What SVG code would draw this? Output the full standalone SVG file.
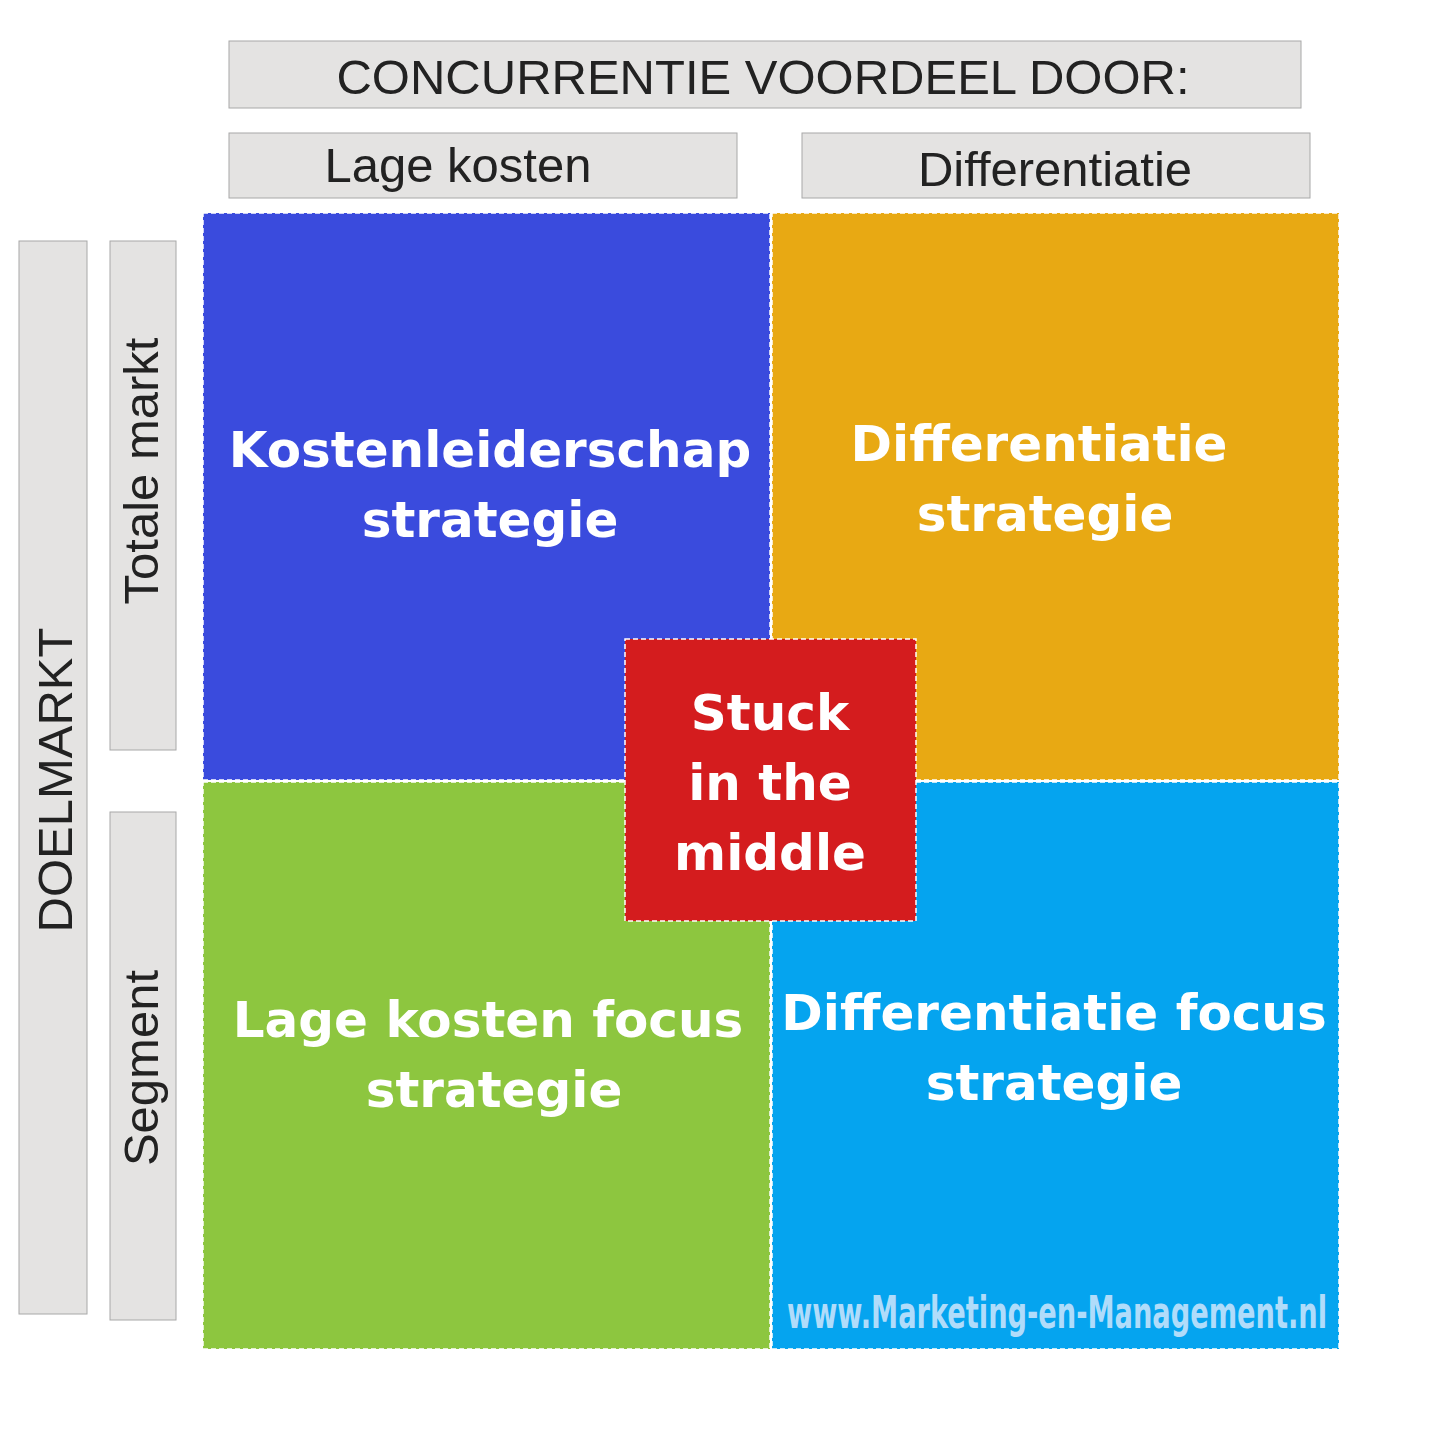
<svg xmlns="http://www.w3.org/2000/svg" width="1440" height="1440" viewBox="0 0 1440 1440">
<style>
.lab{fill:#e4e3e2;stroke:#a8a8a8;stroke-width:1}
.lt{font-family:"Liberation Sans",Arial,sans-serif;fill:#222;text-anchor:middle;font-size:49px}
.q{stroke:#fff;stroke-width:1.5;stroke-dasharray:5,3}
.qt{font-family:"DejaVu Sans",Verdana,sans-serif;font-weight:bold;fill:#fff;text-anchor:middle;font-size:50px}
</style>
<rect width="1440" height="1440" fill="#fff"/>
<g id="header"><rect class="lab" x="229" y="41" width="1072" height="67"/><text class="lt" x="763" y="94">CONCURRENTIE VOORDEEL DOOR:</text></g>
<g id="col-lage"><rect class="lab" x="229" y="133" width="508" height="65"/><text class="lt" x="458" y="182">Lage kosten</text></g>
<g id="col-diff"><rect class="lab" x="802" y="133" width="508" height="65"/><text class="lt" x="1055" y="186">Differentiatie</text></g>
<g id="doelmarkt"><rect class="lab" x="19" y="241" width="68" height="1073"/><text class="lt" transform="translate(72,780) rotate(-90)">DOELMARKT</text></g>
<g id="row-totaal"><rect class="lab" x="110" y="241" width="66" height="509"/><text class="lt" transform="translate(158,471) rotate(-90)">Totale markt</text></g>
<g id="row-segment"><rect class="lab" x="110" y="812" width="66" height="508"/><text class="lt" transform="translate(158,1068) rotate(-90)">Segment</text></g>
<g id="q-kosten"><rect class="q" x="203" y="213" width="567" height="567" fill="#3a4bdd"/><text class="qt" x="490" y="467">Kostenleiderschap</text><text class="qt" x="490" y="537">strategie</text></g>
<g id="q-diff"><rect class="q" x="772" y="213" width="567" height="567" fill="#e8a913"/><text class="qt" x="1039" y="461">Differentiatie</text><text class="qt" x="1045" y="531">strategie</text></g>
<g id="q-lagefocus"><rect class="q" x="203" y="782" width="567" height="567" fill="#8dc63f"/><text class="qt" x="488" y="1037">Lage kosten focus</text><text class="qt" x="494" y="1107">strategie</text></g>
<g id="q-difffocus"><rect class="q" x="772" y="782" width="567" height="567" fill="#05a4ef"/><text class="qt" x="1054" y="1030">Differentiatie focus</text><text class="qt" x="1054" y="1100">strategie</text>
<text x="787" y="1328" font-family="'DejaVu Sans',sans-serif" font-weight="bold" font-size="44" fill="#b0dcfa" textLength="540" lengthAdjust="spacingAndGlyphs">www.Marketing-en-Management.nl</text></g>
<g id="stuck"><rect class="q" x="625" y="639" width="291" height="282" fill="#d41c1e"/><text class="qt" x="770" y="730">Stuck</text><text class="qt" x="770" y="800">in the</text><text class="qt" x="770" y="870">middle</text></g>
<g id="connectors"/>
</svg>
